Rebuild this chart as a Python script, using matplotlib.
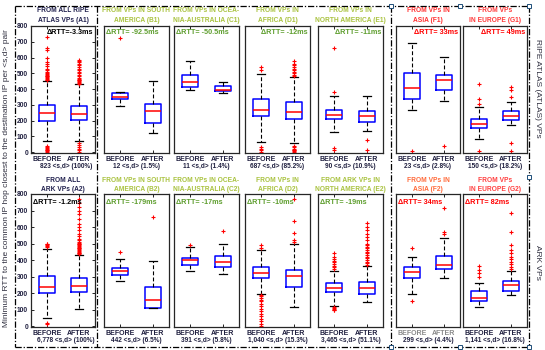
import matplotlib
matplotlib.use('Agg')
import matplotlib.pyplot as plt
from matplotlib.lines import Line2D

plt.rcParams['font.family'] = ['Liberation Sans', 'DejaVu Sans']

# ---------------- data ----------------
top_titles = [("FROM ALL RIPE", "ATLAS VPs (A1)"), ("FROM VPs IN SOUTH", "AMERICA (B1)"),
              ("FROM VPs IN OCEA-", "NIA-AUSTRALIA (C1)"), ("FROM VPs IN", "AFRICA (D1)"),
              ("FROM VPs IN", "NORTH AMERICA (E1)"), ("FROM VPs IN", "ASIA (F1)"),
              ("FROM VPs", "IN EUROPE (G1)")]
bottom_titles = [("FROM ALL", "ARK VPs (A2)"), ("FROM VPs IN SOUTH", "AMERICA (B2)"),
                 ("FROM VPs IN OCEA-", "NIA-AUSTRALIA (C2)"), ("FROM VPs IN", "AFRICA (D2)"),
                 ("FROM ARK VPs IN", "NORTH AMERICA (E2)"), ("FROM VPs IN", "ASIA (F2)"),
                 ("FROM VPs", "IN EUROPE (G2)")]
top_counts = ["823 <s,d> (100%)", "12 <s,d> (1.5%)", "11 <s,d> (1.4%)", "687 <s,d> (85.2%)",
              "90 <s,d> (10.9%)", "23 <s,d> (2.8%)", "150 <s,d> (18.2%)"]
bottom_counts = ["6,778 <s,d> (100%)", "442 <s,d> (6.5%)", "391 <s,d> (5.8%)", "1,040 <s,d> (15.3%)",
                 "3,465 <s,d> (51.1%)", "299 <s,d> (4.4%)", "1,141 <s,d> (16.8%)"]
top_delta = ["ΔRTT=-3.3ms", "ΔRTT= -92.5ms", "ΔRTT= -50.5ms", "ΔRTT= -12ms",
             "ΔRTT= -11ms", "ΔRTT= 33ms", "ΔRTT= 49ms"]
bottom_delta = ["ΔRTT= -1.2ms", "ΔRTT= -179ms", "ΔRTT= -17ms", "ΔRTT= -10ms",
                "ΔRTT= -19ms", "ΔRTT= 34ms", "ΔRTT= 82ms"]
xlabels = ["BEFORE", "AFTER"]
yticks = [0, 100, 200, 300, 400, 500, 600, 700, 800]

# box stats: [whisker low, q1, median, q3, whisker high]
top_before = [[70, 197, 246, 298, 451], [292, 335, 351, 373, 383], [394, 411, 444, 491, 576],
              [65, 227, 267, 337, 493], [127, 208, 235, 265, 354], [267, 339, 404, 500, 690],
              [81, 152, 176, 210, 284]]
top_after = [[70, 203, 239, 294, 432], [119, 182, 260, 307, 451], [373, 387, 394, 419, 442],
             [59, 208, 252, 316, 474], [133, 192, 226, 260, 354], [324, 394, 455, 491, 601],
             [170, 203, 229, 258, 318]]
bottom_before = [[47, 198, 234, 305, 465], [271, 307, 331, 350, 408], [333, 368, 400, 410, 477],
                 [192, 289, 323, 356, 461], [123, 204, 230, 259, 333], [196, 289, 325, 356, 420],
                 [115, 152, 170, 214, 262]]
bottom_after = [[101, 204, 240, 293, 428], [107, 107, 158, 238, 394], [313, 356, 386, 424, 495],
                [117, 234, 301, 339, 497], [143, 196, 232, 265, 362], [289, 343, 372, 422, 531],
                [186, 214, 247, 271, 333]]

# outliers
top_before_fliers = [
    [0, 5, 10, 15, 20, 25, 30, 40, 455, 460, 465, 470, 475, 480, 485, 490, 495, 500, 510, 520,
     530, 545, 560, 570, 600, 650, 660, 728],
    [726],
    [],
    [0, 10, 20, 30, 520, 542],
    [15, 25, 379, 658],
    [8],
    [8, 305, 337, 432]]
top_after_fliers = [
    [0, 10, 20, 30, 45, 60, 435, 440, 445, 450, 455, 460, 465, 470, 480, 490, 500, 510, 520,
     530, 540, 550, 560, 570, 575, 582],
    [],
    [],
    [0, 5, 10, 15, 20, 30, 40, 480, 490, 500, 510, 520, 530, 540, 550, 560, 578],
    [13, 76],
    [38],
    [6, 59, 351, 394, 415]]
bottom_before_fliers = [
    [12, 20, 480, 487, 491, 495, 500],
    [450],
    [493],
    [0, 15, 30, 45, 60, 75, 90, 105, 120, 135, 150, 160, 170, 180, 188, 475, 491],
    [95, 100, 105, 110, 115, 345, 355, 365, 375, 385, 395, 405, 420, 440],
    [153, 471],
    [300, 320, 340, 365]]
bottom_after_fliers = [
    [435, 440, 445, 450, 455, 460, 465, 470, 475, 480, 485, 490, 495, 500, 505, 510, 520, 530,
     545, 560, 580, 600, 620, 650, 680, 700, 720, 745, 770],
    [662],
    [578],
    [511, 520, 562, 638, 768],
    [370, 380, 390, 400, 410, 420, 430, 440, 450, 460, 470, 480, 490, 500, 520, 540, 560, 580,
     600, 622],
    [558, 568, 713],
    [345, 360, 375, 390, 405, 420, 440, 460, 490, 570, 683]]

# ---------------- style / layout ----------------
W, H = 545, 350
def fx(px): return px / W
def fy(py): return 1 - py / H

col_x = [(31, 95), (104, 169), (174, 239), (245, 310), (318, 383), (396, 460), (463, 527)]
rows = [dict(top=26, bot=153, t1=10.5, t2=20, lab2=166, dy=32),
        dict(top=194, bot=327, t1=180.5, t2=189.5, lab2=341, dy=202)]

title_colors = ["#22224f", "#a9c23f", "#a9c23f", "#a9c23f", "#a9c23f", "#ff3030", "#ff3a3a"]
title_colors_b = ["#22224f", "#a9c23f", "#a9c23f", "#a9c23f", "#a9c23f", "#ff6a3a", "#ff4040"]
delta_colors = ["#000000", "#5e9e2e", "#5e9e2e", "#5e9e2e", "#5e9e2e", "#ff0000", "#ff0000"]
delta_align = [['right', 'left', 'left', 'right', 'right', 'right', 'right'],
               ['left', 'left', 'left', 'left', 'left', 'left', 'left']]

fig = plt.figure(figsize=(W / 100, H / 100), dpi=100)

def mkstats(s, fl, label):
    return dict(whislo=s[0], q1=s[1], med=s[2], q3=s[3], whishi=s[4], fliers=fl, label=label)

all_data = [
    (top_titles, top_counts, top_delta, top_before, top_after, top_before_fliers, top_after_fliers, title_colors),
    (bottom_titles, bottom_counts, bottom_delta, bottom_before, bottom_after, bottom_before_fliers,
     bottom_after_fliers, title_colors_b),
]

for r, (titles, counts, deltas, bef, aft, bfl, afl, tcols) in enumerate(all_data):
    R = rows[r]
    for c in range(7):
        x0, x1 = col_x[c]
        ax = fig.add_axes([fx(x0), fy(R['bot']), (x1 - x0) / W, (R['bot'] - R['top']) / H])
        stats = [mkstats(bef[c], bfl[c], xlabels[0]), mkstats(aft[c], afl[c], xlabels[1])]
        ax.bxp(stats, positions=[1, 2], widths=0.5, showfliers=True,
               boxprops=dict(color='#0000ff', lw=1.1),
               medianprops=dict(color='#ff0000', lw=1.1),
               whiskerprops=dict(color='black', lw=0.8, ls=(0, (3.5, 2))),
               capprops=dict(color='black', lw=0.9),
               flierprops=dict(marker='+', markeredgecolor='#ff0000', markersize=2.2,
                               markeredgewidth=0.8, ls='none'))
        ax.set_xlim(0.5, 2.5)
        ax.set_ylim(-6, 800)
        ax.set_xticks([1, 2])
        lab_col = '#8a8a8a' if (r == 1 and c == 5) else '#202040'
        ax.set_xticklabels(xlabels, fontsize=5.0, fontweight='bold', color=lab_col)
        ax.tick_params(axis='x', direction='in', length=2, width=0.6, pad=2.2, top=True)
        if c == 0:
            ax.set_yticks(yticks)
            ax.set_yticklabels([str(v) for v in yticks], fontsize=4.8, fontweight='bold', color='#202040')
            ax.tick_params(axis='y', direction='in', length=2, width=0.6, pad=2, right=True)
        else:
            ax.set_yticks([])
        for sp in ax.spines.values():
            sp.set_linewidth(0.9)
            sp.set_color('#262626')
        cx = (x0 + x1) / 2
        fig.text(fx(cx), fy(R['t1']), titles[c][0], ha='center', va='center', fontsize=4.8,
                 fontweight='bold', color=tcols[c])
        fig.text(fx(cx), fy(R['t2']), titles[c][1], ha='center', va='center', fontsize=4.8,
                 fontweight='bold', color=tcols[c])
        fig.text(fx(cx + (3 if c == 0 else 0)), fy(R['lab2']), counts[c], ha='center', va='center',
                 fontsize=4.7, fontweight='bold', color='#202040')
        al = delta_align[r][c]
        dx = fx(x1 - 2) if al == 'right' else fx(x0 + 2)
        fig.text(dx, fy(R['dy']), deltas[c], ha=al, va='center', fontsize=5.2,
                 fontweight='bold', color=delta_colors[c])

# y label and row labels
fig.text(fx(7), fy(178), "Minimum RTT to the common IP hop closest to the destination IP per <s,d> pair",
         rotation=90, ha='center', va='center', fontsize=6, color='#303040')
fig.text(fx(537), fy(88), "RIPE ATLAS (ATLAS) VPs", rotation=270, ha='center', va='center',
         fontsize=6, color='#303040')
fig.text(fx(537), fy(262), "ARK VPs", rotation=270, ha='center', va='center',
         fontsize=6, color='#303040')

# dash-dot frames
dd = dict(color='black', lw=0.9, ls=(0, (5, 1.5, 1, 1.5)), transform=fig.transFigure)
fig.add_artist(Line2D([fx(15), fx(529)], [fy(6), fy(6)], **dd))
fig.add_artist(Line2D([fx(15), fx(529)], [fy(347), fy(347)], **dd))
for xv in [15, 97, 391, 529]:
    fig.add_artist(Line2D([fx(xv), fx(xv)], [fy(6), fy(347)], **dd))
for (hx, hy) in [(391, 6), (460, 6), (529, 6), (529, 177), (529, 347), (460, 347), (391, 347)]:
    fig.add_artist(Line2D([fx(hx)], [fy(hy)], marker='s', ms=2.2, mfc='white', mec='#1f4e79',
                          mew=0.7, transform=fig.transFigure))

fig.savefig('out.png', dpi=100)
